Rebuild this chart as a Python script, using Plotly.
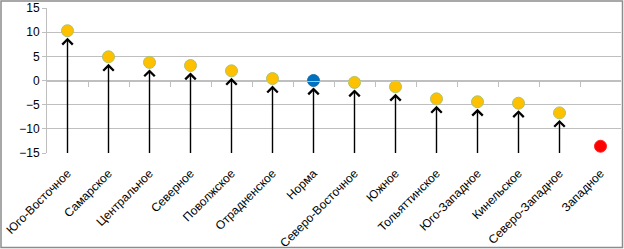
import plotly.graph_objects as go

categories = ["Юго-Восточное", "Самарское", "Центральное", "Северное", "Поволжское",
              "Отрадненское", "Норма", "Северо-Восточное", "Южное", "Тольяттинское",
              "Юго-Западное", "Кинельское", "Северо-Западное", "Западное"]
values = [10.3, 4.9, 3.75, 3.1, 2.0, 0.4, 0.0, -0.4, -1.3, -3.8, -4.4, -4.7, -6.7, -13.6]
has_arrow = [True] * 13 + [False]
fill_colors = ["#FFC000"] * 6 + ["#0070C0"] + ["#FFC000"] * 6 + ["#FF0000"]
edge_colors = ["#A9C46C"] * 6 + ["#1F6FA8"] + ["#A9C46C"] * 6 + ["#FF2020"]
y_ticks = [-15, -10, -5, 0, 5, 10, 15]

W, H = 624, 249
ML, MR, MT, MB = 47, 3, 8, 96
pw, ph = W - ML - MR, H - MT - MB

x_idx = list(range(len(categories)))

fig = go.Figure()
fig.add_trace(go.Scatter(
    x=x_idx, y=values, mode="markers",
    marker=dict(size=12, color=fill_colors, line=dict(color=edge_colors, width=1)),
    showlegend=False, hoverinfo="skip"))
# invisible trace for the zero-crossing axis
fig.add_trace(go.Scatter(x=[0], y=[0], xaxis="x2", mode="markers",
                         marker=dict(opacity=0), showlegend=False, hoverinfo="skip"))

for i, (v, a) in enumerate(zip(values, has_arrow)):
    if not a:
        continue
    fig.add_annotation(x=i, y=v, ax=i, ay=-15.3, xref="x", yref="y", axref="x", ayref="y",
                       text="", showarrow=True, arrowhead=4, arrowsize=1.45, arrowwidth=1.4,
                       arrowcolor="#000000", standoff=7)

grid = "#BFBFBF"
fig.update_layout(
    template="none",
    width=W, height=H,
    margin=dict(l=ML, r=MR, t=MT, b=MB, pad=0),
    paper_bgcolor="white", plot_bgcolor="white",
    font=dict(family="Liberation Sans", size=12, color="#000000"),
    xaxis=dict(range=[-0.5, len(categories) - 0.5], tickvals=x_idx, ticktext=categories,
               tickangle=-45, showgrid=False, zeroline=False, showline=False, ticks="",
               ticklabelstandoff=10, automargin=False,
               tickfont=dict(family="Liberation Sans", size=12, color="#000000")),
    xaxis2=dict(overlaying="x", anchor="free", position=0.5, side="bottom",
                range=[-0.5, len(categories) - 0.5],
                tickvals=[i + 0.5 for i in x_idx[:-1]], ticks="outside", ticklen=5,
                tickcolor=grid, tickwidth=1, showline=True, linecolor=grid, linewidth=1,
                showticklabels=False, showgrid=False, zeroline=False, automargin=False),
    yaxis=dict(range=[-15, 15], tickvals=y_ticks, showgrid=True, gridcolor=grid, gridwidth=1,
               zeroline=False, showline=True, linecolor=grid, ticks="outside", ticklen=4,
               tickcolor=grid, automargin=False,
               tickfont=dict(family="Liberation Sans", size=12, color="#000000")),
)

# outer frame of the chart
fig.add_shape(type="rect", xref="paper", yref="paper",
              x0=(1 - ML) / pw, x1=(W - 1.5 - ML) / pw,
              y0=-(H - 1.5 - MT - ph) / ph, y1=(ph + MT - 1) / ph,
              line=dict(color="#8C8C8C", width=1.5), layer="below")

fig.write_html("out.html", config={"displayModeBar": False},
               post_script="document.body.style.margin='0';")
